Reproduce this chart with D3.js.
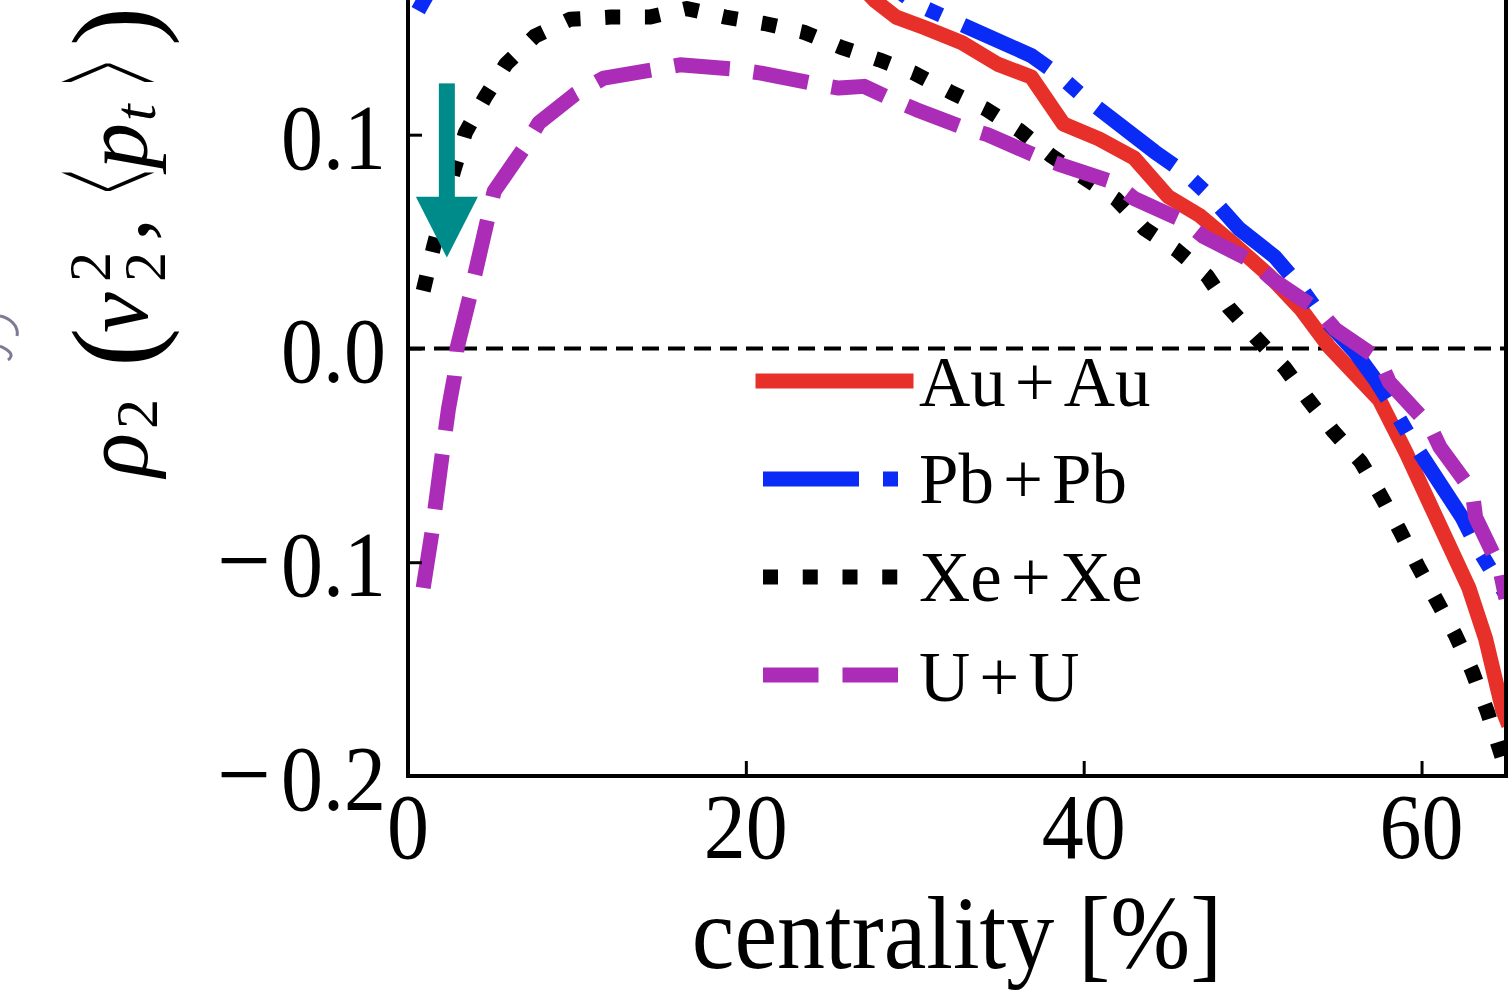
<!DOCTYPE html>
<html>
<head>
<meta charset="utf-8">
<script src="https://cdn.jsdelivr.net/npm/d3@7"></script>
<style>
  html, body { margin: 0; padding: 0; background: #fff; overflow: hidden; }
  svg { display: block; }
</style>
</head>
<body>
<div id="chart"></div>
<script>
// data (centrality %, rho_2)
const auAuCent = [25, 27.6, 28.9, 30.6, 32.8, 34.9, 36.9, 38.8, 40.9, 43.0, 45.0, 46.9, 49.0, 51.0, 52.9, 54.5, 57.5, 59.1, 60.8, 62.8, 63.8, 64.8, 65];
const auAuRho  = [0.185, 0.163, 0.155, 0.150, 0.143, 0.133, 0.127, 0.105, 0.098, 0.089, 0.071, 0.062, 0.048, 0.034, 0.018, 0.001, -0.024, -0.049, -0.078, -0.112, -0.136, -0.169, -0.173];

const pbPbCent = [0.6, 2.5, 8, 16, 23, 27.5, 30.1, 31.8, 36.9, 38.5, 40.1, 44.2, 46.0, 47.5, 49.2, 51.3, 52.7, 53.9, 56.1, 57.3, 58.4, 59.5, 62.4, 63.3, 64.9, 65];
const pbPbRho  = [0.158, 0.185, 0.21, 0.22, 0.205, 0.176, 0.161, 0.155, 0.137, 0.128, 0.117, 0.092, 0.082, 0.071, 0.056, 0.043, 0.030, 0.017, -0.002, -0.015, -0.029, -0.044, -0.079, -0.093, -0.114, -0.116];

const xeXeCent = [0.9, 1.5, 2.7, 3.4, 4.6, 5.8, 7.5, 9.6, 12.0, 14.3, 16.5, 18.8, 21.1, 23.4, 25.6, 27.9, 29.9, 32.1, 34.2, 36.2, 38.1, 40.0, 41.9, 43.6, 45.5, 47.3, 48.6, 50.2, 51.9, 53.3, 54.8, 56.4, 57.6, 58.7, 59.8, 60.9, 62.0, 63.0, 63.9, 64.6, 65];
const xeXeRho  = [0.027, 0.047, 0.083, 0.101, 0.118, 0.133, 0.146, 0.154, 0.155, 0.155, 0.159, 0.155, 0.152, 0.148, 0.141, 0.135, 0.129, 0.120, 0.112, 0.102, 0.090, 0.080, 0.070, 0.056, 0.046, 0.034, 0.019, 0.005, -0.009, -0.024, -0.039, -0.053, -0.069, -0.085, -0.102, -0.118, -0.134, -0.151, -0.170, -0.187, -0.197];

const uUCent = [0.9, 1.4, 2.05, 2.4, 2.75, 2.9, 3.65, 4.7, 5.1, 6.8, 7.75, 9.9, 11.6, 14.5, 16.1, 19.2, 20.9, 23.9, 25.5, 27.0, 28.5, 30.1, 32.6, 34.3, 37.3, 38.6, 41.8, 43.0, 46.0, 47.1, 50.0, 51.1, 54.0, 54.9, 57.5, 58.1, 60.5, 61.1, 63.0, 63.2, 64.6, 65];
const uURho  = [-0.112, -0.087, -0.048, -0.028, -0.013, 0.0, 0.024, 0.060, 0.0735, 0.093, 0.1055, 0.119, 0.1265, 0.1304, 0.1327, 0.1307, 0.1288, 0.1241, 0.1218, 0.1226, 0.1171, 0.1117, 0.1042, 0.100, 0.0897, 0.086, 0.0776, 0.0701, 0.0593, 0.0523, 0.0407, 0.0327, 0.0173, 0.0089, -0.0051, -0.0159, -0.0364, -0.0463, -0.0668, -0.079, -0.102, -0.117];

const seriesNames = ['Au+Au', 'Pb+Pb', 'Xe+Xe', 'U+U'];
const xTicks = [0, 20, 40, 60];
const yTicks = [-0.2, -0.1, 0.0, 0.1];

// arrow annotation (data coords)
const arrowX = 2.3, arrowTop = 0.124, arrowHeadBase = 0.071, arrowTip = 0.0425;

const W = 1512, H = 991;
const mLeft = 408, mRight = 1506, mTop = 0, mBottom = 776;
const lw = 15;

const svg = d3.select('#chart').append('svg')
  .attr('width', W).attr('height', H)
  .style('font-family', '"Liberation Serif", "DejaVu Serif", serif');

const x = d3.scaleLinear().domain([0, 65]).range([mLeft, mRight]);
const y = d3.scaleLinear().domain([-0.2, 0.163]).range([mBottom, mTop]);

svg.append('defs').append('clipPath').attr('id', 'plotClip')
  .append('rect').attr('x', mLeft).attr('y', mTop)
  .attr('width', mRight - mLeft).attr('height', mBottom - mTop);

const plot = svg.append('g').attr('clip-path', 'url(#plotClip)');

// zero line
plot.append('line')
  .attr('x1', x(0)).attr('x2', x(65))
  .attr('y1', y(0)).attr('y2', y(0))
  .attr('stroke', '#000').attr('stroke-width', 4)
  .attr('stroke-dasharray', '17,9');

const styles = [
  { color: '#e8302a', dash: null, cap: 'square' },
  { color: '#0a2bf5', dash: `${6.4 * lw},${1.6 * lw},${lw},${1.6 * lw}`, cap: 'butt' },
  { color: '#000000', dash: `${lw},${1.65 * lw}`, cap: 'butt' },
  { color: '#ab2cb6', dash: `${3.7 * lw},${1.6 * lw}`, cap: 'butt' }
];
const seriesData = [
  d3.zip(auAuCent, auAuRho),
  d3.zip(pbPbCent, pbPbRho),
  d3.zip(xeXeCent, xeXeRho),
  d3.zip(uUCent, uURho)
];

const line = d3.line().x(d => x(d[0])).y(d => y(d[1]));

seriesData.forEach((pts, i) => {
  plot.append('path')
    .attr('d', line(pts))
    .attr('fill', 'none')
    .attr('stroke', styles[i].color)
    .attr('stroke-width', lw)
    .attr('stroke-linejoin', 'round')
    .attr('stroke-linecap', styles[i].cap)
    .attr('stroke-dasharray', styles[i].dash);
});

// teal arrow
const ax = x(arrowX), shaftW = 16, headW = 62;
svg.append('rect')
  .attr('x', ax - shaftW / 2).attr('y', y(arrowTop))
  .attr('width', shaftW).attr('height', y(arrowHeadBase) - y(arrowTop) + 1)
  .attr('fill', '#008b8b');
svg.append('path')
  .attr('d', `M${ax - headW / 2},${y(arrowHeadBase)} L${ax + headW / 2},${y(arrowHeadBase)} L${ax},${y(arrowTip)} Z`)
  .attr('fill', '#008b8b');

// axes (inward ticks)
svg.append('g')
  .attr('transform', `translate(0,${mBottom})`)
  .call(d3.axisBottom(x).tickValues(xTicks).tickSizeInner(-15).tickSizeOuter(0).tickFormat(''))
  .call(g => g.select('.domain').remove())
  .call(g => g.selectAll('line').attr('stroke', '#000').attr('stroke-width', 3));
svg.append('g')
  .attr('transform', `translate(${mLeft},0)`)
  .call(d3.axisLeft(y).tickValues(yTicks).tickSizeInner(-14).tickSizeOuter(0).tickFormat(''))
  .call(g => g.select('.domain').remove())
  .call(g => g.selectAll('line').attr('stroke', '#000').attr('stroke-width', 3));

// spines
svg.append('path')
  .attr('d', `M${mLeft},${mTop}V${mBottom}H${mRight}V${mTop}`)
  .attr('stroke', '#000').attr('stroke-width', 4).attr('fill', 'none');

// tick labels
const fmt = d3.format('.1f');
yTicks.forEach(v => {
  const t = svg.append('text')
    .attr('transform', `translate(386,${y(v) + 34}) scale(1,1.1)`)
    .attr('text-anchor', 'end')
    .attr('font-size', 84)
    .attr('fill', '#000');
  if (v < 0) {
    t.append('tspan').attr('font-size', 96).text('\u2212');
    t.append('tspan').attr('dx', 10).text(fmt(-v));
  } else {
    t.text(fmt(v));
  }
});
xTicks.forEach(v => {
  svg.append('text')
    .attr('transform', `translate(${x(v)},858) scale(1,1.1)`)
    .attr('text-anchor', 'middle')
    .attr('font-size', 84)
    .attr('fill', '#000')
    .text(v);
});

// x label
svg.append('text')
  .attr('transform', `translate(${(mLeft + mRight) / 2},968) scale(1,1.07)`)
  .attr('text-anchor', 'middle')
  .attr('font-size', 96)
  .attr('fill', '#000')
  .text('centrality [%]');

// y label, glyph by glyph (rotated); sx/sy stretch the angle brackets
const yLab = [
  { t: '\u03C1', s: 92, y: 477, b: 147, it: true },
  { t: '2', s: 60, y: 429, b: 157 },
  { t: '(', s: 118, y: 367, b: 154 },
  { t: 'v', s: 92, y: 333, b: 147, it: true },
  { t: '2', s: 60, y: 282, b: 110 },
  { t: '2', s: 60, y: 282, b: 165 },
  { t: ',', s: 92, y: 241, b: 147 },
  { t: '<', s: 80, y: 193, b: 172, sx: 0.5, sy: 2.4 },
  { t: 'p', s: 92, y: 169, b: 147, it: true },
  { t: 't', s: 60, y: 121, b: 155, it: true },
  { t: '>', s: 80, y: 84, b: 172, sx: 0.5, sy: 2.4 },
  { t: ')', s: 118, y: 46, b: 154 }
];
yLab.forEach(g => {
  const sc = g.sx ? ` scale(${g.sx},${g.sy})` : '';
  svg.append('text')
    .attr('transform', `translate(${g.b},${g.y}) rotate(-90)${sc}`)
    .attr('font-size', g.s)
    .attr('font-style', g.it ? 'italic' : 'normal')
    .attr('fill', '#000')
    .text(g.t);
});

// stroke fragment of the neighbouring panel, cut at the left edge
svg.append('path')
  .attr('d', 'M0,316 C10,318 19,326 17,336 M0,346 C9,350 15,355 8,360')
  .attr('fill', 'none')
  .attr('stroke', '#5a5a7a')
  .attr('stroke-width', 3)
  .attr('opacity', 0.8);

// legend
const legY = [381, 479, 577, 675];
const legTextY = [406, 503, 601, 701];
seriesNames.forEach((name, i) => {
  svg.append('line')
    .attr('x1', 763).attr('x2', 906)
    .attr('y1', legY[i]).attr('y2', legY[i])
    .attr('stroke', styles[i].color)
    .attr('stroke-width', lw)
    .attr('stroke-linecap', styles[i].cap)
    .attr('stroke-dasharray', styles[i].dash);
  const parts = name.split('+');
  const t = svg.append('text')
    .attr('x', 919).attr('y', legTextY[i])
    .attr('font-size', 71)
    .attr('fill', '#000');
  t.append('tspan').text(parts[0]);
  t.append('tspan').attr('dx', 9).text('+');
  t.append('tspan').attr('dx', 9).text(parts[1]);
});
</script>
</body>
</html>
